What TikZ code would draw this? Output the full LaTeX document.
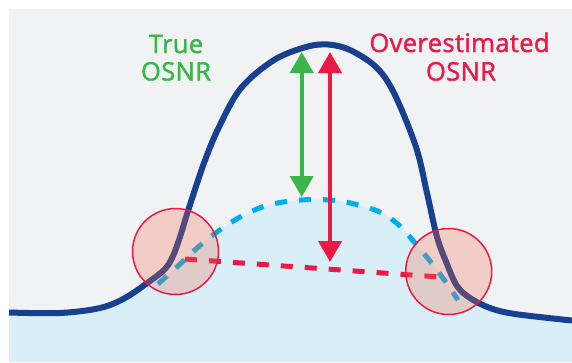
\documentclass[tikz,border=0pt]{standalone}
\usepackage{fontspec}
\setmainfont{Open Sans}
\newfontfamily\lblfont{Open Sans}[FakeBold=1.6,LetterSpace=1.5]
\usetikzlibrary{arrows.meta}
\definecolor{bggray}{HTML}{F1F2F4}
\definecolor{noisefill}{HTML}{D9EFF8}
\definecolor{navy}{HTML}{17408F}
\definecolor{cyanline}{HTML}{00AEEF}
\definecolor{greenarr}{HTML}{39B54A}
\definecolor{redarr}{HTML}{EC1846}
\definecolor{circfill}{HTML}{F56A48}
\begin{document}
\begin{tikzpicture}[x=1pt,y=-1pt,
  signal/.style={draw=navy,line width=6pt,line join=round},
  noise/.style={draw=cyanline,line width=5pt,dash pattern=on 12pt off 12pt},
  estline/.style={draw=redarr,line width=5pt,dash pattern=on 12pt off 12pt},
  tarrow/.style={line width=4pt,{Triangle[width=23pt,length=21pt]}-{Triangle[width=23pt,length=21pt]}},
  ring/.style={circle,draw=redarr,line width=1.5pt,fill=circfill,fill opacity=0.27,minimum size=86pt,inner sep=0pt},
  lbl/.style={font=\lblfont\fontsize{25.5}{30}\selectfont,inner sep=0pt,anchor=base}]
\useasboundingbox (0,0) rectangle (572,362);
\fill[white] (0,0) rectangle (572,362);
\fill[bggray] (9,9) rectangle (572,362);
% noise floor fill
\begin{scope}
\clip plot[smooth,tension=0.55] coordinates {(9,312.5) (60,313) (100,308) (125,298) (150,281) (165,269) (173,256) (180,237) (188,211) (204,163) (219,127) (241,88) (274,60) (306,47) (328,44.5) (350,50) (376,67) (394,93) (416,147) (427,193) (437,237) (447,264) (457,286) (470,298) (490,308) (515,314) (572,320.5)} -- (572,362) -- (9,362) -- cycle;
\fill[noisefill] (9,362) -- (9,0) -- (158,0) -- (158,284) -- plot[smooth,tension=0.55] coordinates {(158,284) (178,266) (197,248) (217,232) (240,217) (265,206) (290,201) (315,199.5) (340,201) (362,206) (382,213) (400,226) (415,243) (430,261) (445,281) (458,300)} -- (458,0) -- (572,0) -- (572,362) -- cycle;
\end{scope}
% signal
\draw[signal] plot[smooth,tension=0.55] coordinates {(9,312.5) (60,313) (100,308) (125,298) (150,281) (165,269) (173,256) (180,237) (188,211) (204,163) (219,127) (241,88) (274,60) (306,47) (328,44.5) (350,50) (376,67) (394,93) (416,147) (427,193) (437,237) (447,264) (457,286) (470,298) (490,308) (515,314) (572,320.5)};
% dashed lines
\draw[noise] plot[smooth,tension=0.55] coordinates {(158,284) (178,266) (197,248) (217,232) (240,217) (265,206) (290,201) (315,199.5) (340,201) (362,206) (382,213) (400,226) (415,243) (430,261) (445,281) (458,300)};
\coordinate (ea) at (185,259);
\coordinate (eb) at (440,277);
\draw[estline] (ea) -- (eb);
% arrows
\coordinate (gtop) at (301.7,52);
\coordinate (gbot) at (301.7,197);
\coordinate (rtop) at (330,52);
\coordinate (rbot) at (330,262);
\draw[tarrow,draw=greenarr,fill=greenarr] (gtop) -- (gbot);
\draw[tarrow,draw=redarr,fill=redarr] (rtop) -- (rbot);
% circles
\node[ring] (c1) at (175.5,251.5) {};
\node[ring] (c2) at (448.7,271.5) {};
% labels
\node[lbl,text=greenarr] (t1) at (176,53) {True};
\node[lbl,text=greenarr] (t2) at (176,80.5) {OSNR};
\node[lbl,text=redarr] (o1) at (459.5,52) {Overestimated};
\node[lbl,text=redarr] (o2) at (461,80.5) {OSNR};
\end{tikzpicture}
\end{document}
